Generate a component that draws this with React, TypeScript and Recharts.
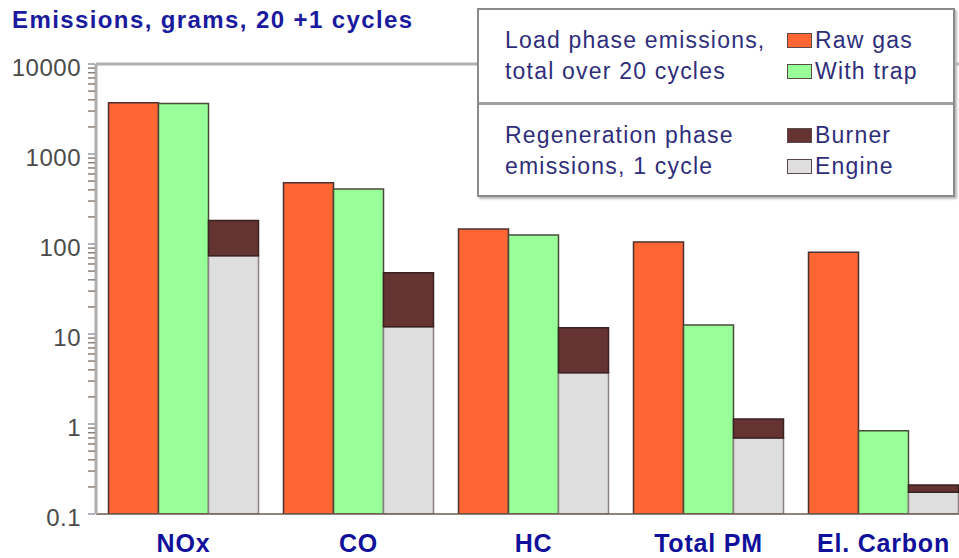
import { BarChart, Bar, XAxis, YAxis, ReferenceLine } from 'recharts';

const categories = ['NOx', 'CO', 'HC', 'Total PM', 'El. Carbon'];
const rawGas = [3700, 480, 147, 105, 81];
const withTrap = [3650, 408, 126, 12.6, 0.84];
const engine = [74, 12, 3.7, 0.7, 0.175];
const burner = [108, 36, 8, 0.44, 0.035];

const majorTicks = [0.1, 1, 10, 100, 1000, 10000];
const minorSteps = [2, 3, 4, 5, 6, 7, 8, 9];

const data = categories.map((name, i) => ({
  name,
  raw: rawGas[i],
  trap: withTrap[i],
  engine: engine[i],
  burner: burner[i],
}));

const allTicks = [
  ...majorTicks,
  ...majorTicks.slice(0, -1).flatMap((m) => minorSteps.map((s) => +(m * s).toPrecision(3))),
].sort((a, b) => a - b);

const COLORS = {
  raw: '#FF6633',
  trap: '#99FF99',
  burner: '#663333',
  engine: '#DEDEDE',
};

const legendGroups = [
  {
    lines: ['Load phase emissions,', 'total over 20 cycles'],
    items: [
      { label: 'Raw gas', color: COLORS.raw },
      { label: 'With trap', color: COLORS.trap },
    ],
  },
  {
    lines: ['Regeneration phase', 'emissions, 1 cycle'],
    items: [
      { label: 'Burner', color: COLORS.burner },
      { label: 'Engine', color: COLORS.engine },
    ],
  },
];

const FONT = '"Liberation Sans", Arial, sans-serif';

function YTick(props: any) {
  const { y, payload } = props;
  const v = payload.value;
  const major = majorTicks.includes(v);
  return (
    <g>
      <line x1={88} x2={95} y1={y} y2={y} stroke={major ? '#9a9aa8' : '#8a8078'} strokeWidth={1.5} />
      {major && (
        <text
          x={81}
          y={y + 3}
          textAnchor="end"
          dominantBaseline="central"
          fontSize={24}
          fontFamily={FONT}
          fill="#4a4a4a"
          letterSpacing={0.5}
        >
          {String(v)}
        </text>
      )}
    </g>
  );
}

function XTick(props: any) {
  const { x, payload } = props;
  return (
    <text
      x={x}
      y={543}
      textAnchor="middle"
      dominantBaseline="central"
      fontSize={25}
      fontWeight="bold"
      fontFamily={FONT}
      fill="#10109a"
      letterSpacing={0.8}
    >
      {payload.value}
    </text>
  );
}

function LegendBox() {
  return (
    <div
      style={{
        position: 'absolute',
        left: 477,
        top: 8,
        width: 474,
        height: 185,
        border: '2px solid #8a8a8a',
        boxShadow: '2px 2px 2px #bbb',
        background: '#fff',
        fontFamily: FONT,
        fontSize: 23,
        letterSpacing: 1.2,
        color: '#2e2e7a',
      }}
    >
      {legendGroups.map((g, gi) => (
        <div
          key={gi}
          style={{
            height: gi === 0 ? 92 : 91,
            borderTop: gi === 1 ? '3px solid #a0a0a0' : 'none',
            position: 'relative',
          }}
        >
          {g.lines.map((line, li) => (
            <div
              key={li}
              style={{ position: 'absolute', left: 26, top: 15 + li * 31, lineHeight: '30px', whiteSpace: 'nowrap' }}
            >
              {line}
            </div>
          ))}
          {g.items.map((it, ii) => (
            <div
              key={ii}
              style={{
                position: 'absolute',
                left: 308,
                top: 15 + ii * 31,
                lineHeight: '30px',
                display: 'flex',
                alignItems: 'center',
                whiteSpace: 'nowrap',
              }}
            >
              <span
                style={{
                  display: 'inline-block',
                  width: 23,
                  height: 13,
                  background: it.color,
                  border: '1.5px solid #5a4a4a',
                  marginRight: 3,
                }}
              />
              {it.label}
            </div>
          ))}
        </div>
      ))}
    </div>
  );
}

export default function App() {
  return (
    <div
      style={{
        position: 'absolute',
        left: 0,
        top: 0,
        width: 959,
        height: 558,
        overflow: 'hidden',
        background: '#fff',
      }}
    >
      <div
        style={{
          position: 'absolute',
          left: 12,
          top: 6,
          fontFamily: FONT,
          fontWeight: 'bold',
          fontSize: 24,
          letterSpacing: 1.4,
          color: '#1a1a9e',
          whiteSpace: 'nowrap',
        }}
      >
        Emissions, grams, 20 +1 cycles
      </div>
      <BarChart
        width={971}
        height={558}
        data={data}
        margin={{ top: 64, right: 0, bottom: 0, left: 0 }}
        barCategoryGap={12.5}
        barGap={0}
      >
        <ReferenceLine y={10000} stroke="#b0b0b0" strokeWidth={3} />
        <XAxis
          dataKey="name"
          height={44}
          tickLine={false}
          axisLine={{ stroke: '#6e5a4e', strokeWidth: 1.5 }}
          tick={<XTick />}
          interval={0}
        />
        <YAxis
          scale="log"
          domain={[0.1, 10000]}
          allowDataOverflow
          ticks={allTicks}
          interval={0}
          width={96}
          tickLine={false}
          axisLine={{ stroke: '#aeaeae', strokeWidth: 3 }}
          tick={<YTick />}
        />
        <Bar dataKey="raw" stackId="raw" fill={COLORS.raw} stroke="#4a3030" strokeWidth={1.5} isAnimationActive={false} />
        <Bar dataKey="trap" stackId="trap" fill={COLORS.trap} stroke="#4a4a3a" strokeWidth={1.5} isAnimationActive={false} />
        <Bar dataKey="engine" stackId="regen" fill={COLORS.engine} stroke="#8a8080" strokeWidth={1.5} isAnimationActive={false} />
        <Bar dataKey="burner" stackId="regen" fill={COLORS.burner} stroke="#3a2222" strokeWidth={1.5} isAnimationActive={false} />
      </BarChart>
      <LegendBox />
    </div>
  );
}
